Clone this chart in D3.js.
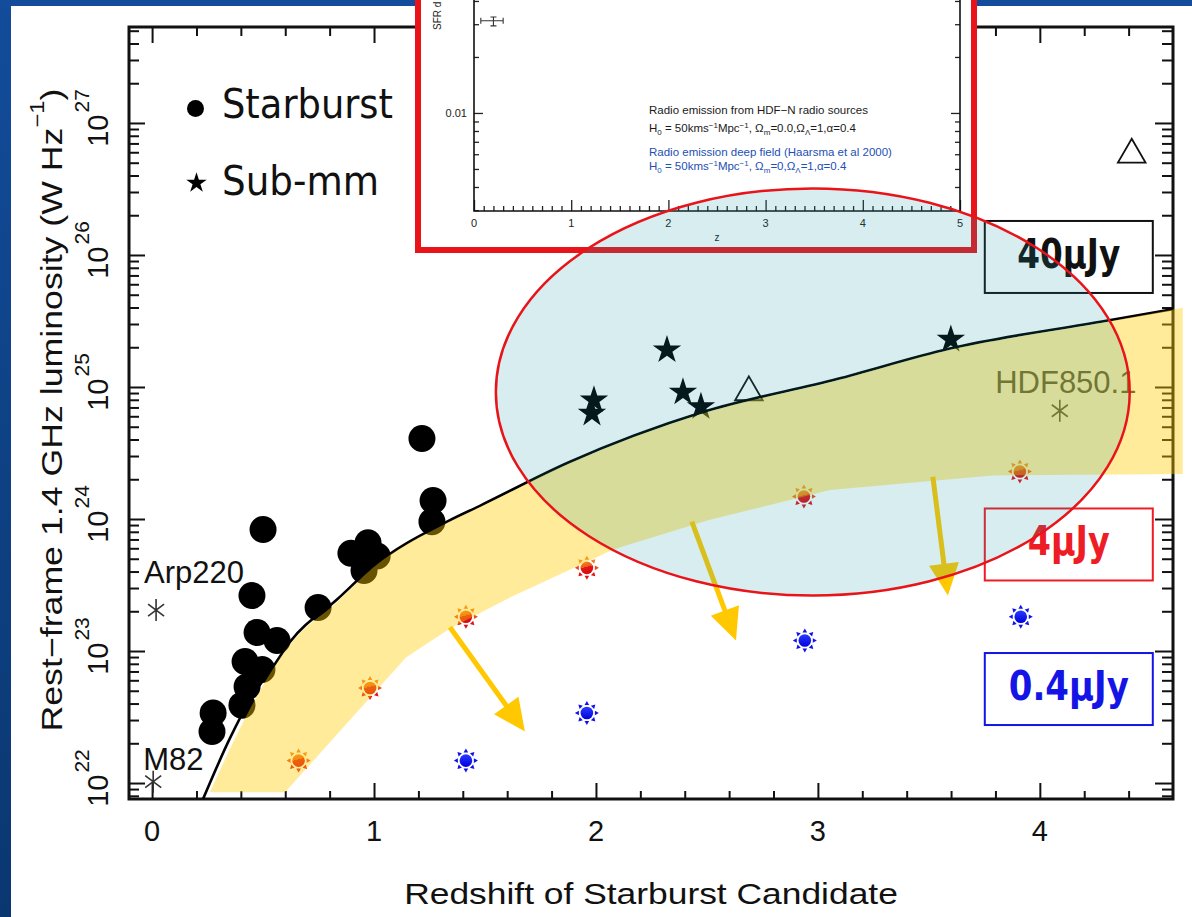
<!DOCTYPE html>
<html>
<head>
<meta charset="utf-8">
<script src="https://cdn.jsdelivr.net/npm/d3@7"></script>
<style>
  html, body { margin: 0; padding: 0; background: #0c3f86; }
  svg { display: block; }
</style>
</head>
<body>
<svg id="chart"></svg>
<script>
const W = 1192
const H = 917
const frame = { left: 129, right: 1173, top: 27, bottom: 799 }

// ---- data: redshift z and log10 of rest-frame 1.4 GHz luminosity (W/Hz) ----
const starburstZ = [1.216, 1.266, 1.261, 0.500, 0.450, 0.748, 0.896, 0.973, 1.014, 0.955,
  0.473, 0.563, 0.419, 0.495, 0.428, 0.405, 0.275, 0.270]
const starburstLogL = [24.61, 24.14, 23.98, 23.92, 23.42, 23.33, 23.74, 23.82, 23.72, 23.61,
  23.14, 23.08, 22.92, 22.86, 22.73, 22.59, 22.53, 22.39]

const submmZ = [1.991, 1.982, 2.320, 2.392, 2.473, 3.599]
const submmLogL = [24.90, 24.80, 25.28, 24.96, 24.85, 25.36]

const triangleZ = [2.689, 4.414]
const triangleLogL = [24.96, 26.76]

const namedSources = ['Arp220', 'M82', 'HDF850.1']
const namedZ = [0.018, 0.005, 4.090]
const namedLogL = [23.31, 22.01, 24.82]

// 40 microJy detection limit
const limitZ = [0.230, 0.351, 0.441, 0.545, 0.622, 0.833, 0.995, 1.329, 1.477, 1.878, 2.482, 3.086, 3.590, 4.293, 4.600]
const limitLogL = [21.88, 22.34, 22.63, 22.88, 23.07, 23.39, 23.64, 23.98, 24.10, 24.43, 24.81, 25.06, 25.29, 25.50, 25.59]

// shaded band
const bandUpperZ = [0.261, 0.360, 0.532, 0.626, 0.833, 0.995, 1.329, 1.477, 1.878, 2.482, 3.086, 3.590, 4.293, 4.644]
const bandUpperLogL = [21.93, 22.29, 22.83, 23.06, 23.37, 23.63, 23.97, 24.09, 24.42, 24.80, 25.05, 25.28, 25.49, 25.60]
const bandLowerZ = [0.261, 0.599, 1.144, 1.342, 1.617, 2.081, 2.505, 3.054, 3.788, 4.644]
const bandLowerLogL = [21.93, 21.93, 22.95, 23.17, 23.41, 23.77, 23.99, 24.22, 24.33, 24.34]

// 4 microJy and 0.4 microJy points
const sun4Z = [0.660, 0.982, 1.414, 1.959, 2.937, 3.910]
const sun4LogL = [22.17, 22.72, 23.26, 23.63, 24.17, 24.36]
const sun04Z = [1.414, 1.959, 2.941, 3.914]
const sun04LogL = [22.17, 22.53, 23.08, 23.26]

const arrowFromZ = [1.342, 2.432, 3.518]
const arrowFromLogL = [23.18, 23.98, 24.32]
const arrowToZ = [1.680, 2.631, 3.586]
const arrowToLogL = [22.39, 23.08, 23.42]

const fluxLabels = ['40μJy', '4μJy', '0.4μJy']
const fluxBoxLogL = [25.985, 23.807, 22.712]
const fluxBoxZ = [3.752, 4.509]

// highlighted region (centre and half-widths)
const regionZ = 2.977
const regionLogL = 24.962
const regionHalfZ = 1.428
const regionHalfDex = 1.542

const xMajor = [0, 1, 2, 3, 4]
const yDecades = [22, 23, 24, 25, 26, 27]
const legendItems = ['Starburst', 'Sub-mm']

// inset: SFR density vs z
const insetZTicks = [0, 1, 2, 3, 4, 5]
const insetPointZ = 0.2
const insetPointSFR = 0.0313
const insetZErr = [0.07, 0.30]
const insetSFRErr = [0.0294, 0.0328]
const insetNotes = [
  'Radio emission from HDF−N radio sources',
  'Radio emission deep field (Haarsma et al 2000)'
]

// ---- styles ----
const fluxColors = ['#111', '#ee1c24', '#1414e6']
const fluxTextLen = [103, 82, 120]
const namedOffsets = [[-12, -27, 'start'], [-10, -12, 'start'], [6, -18, 'middle']]
const hershey = "'Liberation Sans', Arial, sans-serif"

const svg = d3.select('#chart').attr('width', W).attr('height', H)
const defs = svg.append('defs')

const slide = defs.append('linearGradient').attr('id', 'slide')
  .attr('x1', 0).attr('y1', 0).attr('x2', 0).attr('y2', 1)
slide.append('stop').attr('offset', 0).attr('stop-color', '#124c9a')
slide.append('stop').attr('offset', 1).attr('stop-color', '#0a3770')

const sunRed = defs.append('linearGradient').attr('id', 'sunRed')
  .attr('x1', 0).attr('y1', 0).attr('x2', 0.25).attr('y2', 1)
sunRed.append('stop').attr('offset', 0).attr('stop-color', '#f28a2a')
sunRed.append('stop').attr('offset', 0.5).attr('stop-color', '#ec5a1a')
sunRed.append('stop').attr('offset', 0.5).attr('stop-color', '#e4161c')
sunRed.append('stop').attr('offset', 1).attr('stop-color', '#d80c10')
const sunBlue = defs.append('linearGradient').attr('id', 'sunBlue')
  .attr('x1', 0).attr('y1', 0).attr('x2', 0).attr('y2', 1)
sunBlue.append('stop').attr('offset', 0).attr('stop-color', '#2a3cff')
sunBlue.append('stop').attr('offset', 1).attr('stop-color', '#0000dc')

defs.append('clipPath').attr('id', 'frameClip').append('rect')
  .attr('x', frame.left).attr('y', frame.top)
  .attr('width', frame.right - frame.left).attr('height', frame.bottom - frame.top)

svg.append('rect').attr('width', W).attr('height', H).attr('fill', 'url(#slide)')
svg.append('rect').attr('x', 11).attr('y', 6).attr('width', W - 11).attr('height', H - 6).attr('fill', '#fff')

const x = d3.scaleLinear().domain([-0.104, 4.6]).range([frame.left, frame.right])
const y = d3.scaleLog().domain([10 ** 21.879, 10 ** 27.727]).range([frame.bottom, frame.top])
const L = v => y(10 ** v)

const plot = svg.append('g')

// ---- axes (ticks point inwards on all four sides) ----
const isDecade = v => Math.abs(Math.log10(v) - Math.round(Math.log10(v))) < 1e-6
const yMajor = yDecades.map(e => 10 ** e)
const yMinor = y.ticks().filter(v => !isDecade(v))
const xMinor = d3.range(1, 23).filter(i => i % 5 !== 0).map(i => i / 5)

function ticks(axis, transform, values, size) {
  plot.append('g').attr('transform', transform)
    .call(axis.tickValues(values).tickSize(-size).tickSizeOuter(0).tickFormat(''))
    .call(g => g.select('.domain').remove())
    .call(g => g.selectAll('line').attr('stroke', '#111').attr('stroke-width', 2))
}
ticks(d3.axisBottom(x), `translate(0,${frame.bottom})`, xMajor, 16)
ticks(d3.axisBottom(x), `translate(0,${frame.bottom})`, xMinor, 8)
ticks(d3.axisTop(x), `translate(0,${frame.top})`, xMajor, 16)
ticks(d3.axisTop(x), `translate(0,${frame.top})`, xMinor, 9)
ticks(d3.axisLeft(y), `translate(${frame.left},0)`, yMajor, 16)
ticks(d3.axisLeft(y), `translate(${frame.left},0)`, yMinor, 10)
ticks(d3.axisRight(y), `translate(${frame.right},0)`, yMajor, 18)
ticks(d3.axisRight(y), `translate(${frame.right},0)`, yMinor, 11)

plot.append('rect')
  .attr('x', frame.left).attr('y', frame.top)
  .attr('width', frame.right - frame.left).attr('height', frame.bottom - frame.top)
  .attr('fill', 'none').attr('stroke', '#111').attr('stroke-width', 3)

plot.selectAll('text.xlab').data(xMajor).enter().append('text')
  .attr('class', 'xlab')
  .attr('x', d => x(d)).attr('y', 841)
  .attr('text-anchor', 'middle')
  .style('font-family', hershey).style('font-size', '29px').attr('fill', '#111')
  .text(d => d)

const ylab = plot.selectAll('g.ylab').data(yDecades).enter().append('g')
  .attr('class', 'ylab')
  .attr('transform', d => `translate(108,${L(d)}) rotate(-90)`)
  .append('text')
  .attr('x', 5).attr('text-anchor', 'middle')
  .style('font-family', hershey).attr('fill', '#111')
ylab.append('tspan').style('font-size', '29px').text('10')
ylab.append('tspan').style('font-size', '21px').attr('dx', 2).attr('dy', -19).text(d => d)

plot.append('g').attr('transform', 'translate(651,904) scale(1.18,1)')
  .append('text').attr('text-anchor', 'middle')
  .style('font-family', hershey).style('font-size', '30px').attr('fill', '#111')
  .text('Redshift of Starburst Candidate')

const ytitle = plot.append('g').attr('transform', 'translate(62,410) rotate(-90) scale(1.19,1)')
  .append('text').attr('text-anchor', 'middle')
  .style('font-family', hershey).style('font-size', '30px').attr('fill', '#111')
ytitle.append('tspan').text('Rest−frame 1.4 GHz luminosity (W Hz')
ytitle.append('tspan').style('font-size', '20px').attr('dy', -18).text('−1')
ytitle.append('tspan').attr('dy', 18).text(')')

// ---- marks ----
const marks = plot.append('g')

marks.selectAll('circle.sb').data(starburstZ).enter().append('circle')
  .attr('class', 'sb')
  .attr('cx', d => x(d)).attr('cy', (d, i) => L(starburstLogL[i]))
  .attr('r', 13.5).attr('fill', '#000')

const star = d3.symbol(d3.symbolStar, 250)
marks.selectAll('path.submm').data(submmZ).enter().append('path')
  .attr('class', 'submm')
  .attr('transform', (d, i) => `translate(${x(d)},${L(submmLogL[i])})`)
  .attr('d', star).attr('fill', '#000')

const tri = d3.symbol(d3.symbolTriangle, 330)
marks.selectAll('path.tri').data(triangleZ).enter().append('path')
  .attr('class', 'tri')
  .attr('transform', (d, i) => `translate(${x(d)},${L(triangleLogL[i])})`)
  .attr('d', tri).attr('fill', 'none').attr('stroke', '#111').attr('stroke-width', 1.8)

function asterisk(g) {
  const p = d3.path()
  p.moveTo(0, -11); p.lineTo(0, 11)
  p.moveTo(-8, -6); p.lineTo(8, 6)
  p.moveTo(-8, 6); p.lineTo(8, -6)
  g.append('path').attr('d', p.toString()).attr('stroke', '#333').attr('stroke-width', 1.6)
}
namedSources.forEach((name, i) => {
  const g = marks.append('g').attr('transform', `translate(${x(namedZ[i])},${L(namedLogL[i])})`)
  asterisk(g)
  g.append('text')
    .attr('x', namedOffsets[i][0]).attr('y', namedOffsets[i][1])
    .attr('text-anchor', namedOffsets[i][2])
    .style('font-family', hershey).style('font-size', '31px')
    .attr('fill', i === 2 ? '#333' : '#111')
    .text(name)
})

const pairs = (zs, ls) => zs.map((z, i) => [z, ls[i]])
const smooth = d3.line().x(d => x(d[0])).y(d => L(d[1])).curve(d3.curveMonotoneX)

marks.append('path')
  .datum(pairs(limitZ, limitLogL))
  .attr('clip-path', 'url(#frameClip)')
  .attr('d', smooth)
  .attr('fill', 'none').attr('stroke', '#000').attr('stroke-width', 2.6)

function drawSun(px, py, red) {
  const s = marks.append('g').attr('transform', `translate(${px},${py})`)
  d3.range(8).forEach(k => {
    const a = k * Math.PI / 4
    const tip = 12, base = 8, hw = 2.3
    const ux = Math.sin(a), uy = -Math.cos(a)
    const col = !red ? '#1010ee' : (k === 0 || k === 1 || k === 7) ? '#f07a1e' : (k === 2 || k === 6) ? '#ee4a18' : '#e21018'
    s.append('path')
      .attr('d', `M${ux * tip},${uy * tip}L${ux * base - uy * hw},${uy * base + ux * hw}L${ux * base + uy * hw},${uy * base - ux * hw}Z`)
      .attr('fill', col)
  })
  s.append('circle').attr('r', 6.3).attr('fill', red ? 'url(#sunRed)' : 'url(#sunBlue)')
}
sun4Z.forEach((z, i) => drawSun(x(z), L(sun4LogL[i]), true))
sun04Z.forEach((z, i) => drawSun(x(z), L(sun04LogL[i]), false))

// band of model tracks: smooth upper edge, straight-segment lower edge
const upperPath = smooth(pairs(bandUpperZ, bandUpperLogL))
const lowerBack = pairs(bandLowerZ, bandLowerLogL).reverse()
  .map(d => `L${x(d[0])},${L(d[1])}`).join('')
marks.append('path')
  .attr('d', upperPath + lowerBack + 'Z')
  .attr('fill', '#ffcc00').attr('fill-opacity', 0.4)

// arrows
arrowFromZ.forEach((z, i) => {
  const x0 = x(z), y0 = L(arrowFromLogL[i])
  const x1 = x(arrowToZ[i]), y1 = L(arrowToLogL[i])
  const len = Math.hypot(x1 - x0, y1 - y0)
  const ux = (x1 - x0) / len, uy = (y1 - y0) / len
  const hl = 32, hw = 15
  const bx = x1 - ux * hl, by = y1 - uy * hl
  marks.append('line')
    .attr('x1', x0).attr('y1', y0).attr('x2', bx + ux * 2).attr('y2', by + uy * 2)
    .attr('stroke', '#ffc800').attr('stroke-width', 5)
  marks.append('path')
    .attr('d', `M${x1},${y1}L${bx - uy * hw},${by + ux * hw}L${bx + uy * hw},${by - ux * hw}Z`)
    .attr('fill', '#ffc800')
})

// flux limit boxes
fluxLabels.forEach((t, i) => {
  const x0 = x(fluxBoxZ[0]), x1 = x(fluxBoxZ[1])
  const yc = L(fluxBoxLogL[i])
  marks.append('rect')
    .attr('x', x0).attr('y', yc - 36).attr('width', x1 - x0).attr('height', 72)
    .attr('fill', 'none').attr('stroke', fluxColors[i]).attr('stroke-width', 2)
  marks.append('text')
    .attr('x', (x0 + x1) / 2).attr('y', yc + 11)
    .attr('text-anchor', 'middle')
    .attr('textLength', fluxTextLen[i]).attr('lengthAdjust', 'spacingAndGlyphs')
    .style('font-family', "'DejaVu Sans', sans-serif").style('font-weight', 'bold').style('font-size', '40px')
    .attr('fill', fluxColors[i])
    .text(t)
})

// legend
const legend = svg.append('g')
legend.append('circle').attr('cx', 195.5).attr('cy', 108.5).attr('r', 8.5).attr('fill', '#000')
legend.append('path').attr('transform', 'translate(196.5,183)').attr('d', d3.symbol(d3.symbolStar, 130)).attr('fill', '#000')
legend.selectAll('text').data(legendItems).enter().append('text')
  .attr('x', 222).attr('y', (d, i) => 118 + i * 77)
  .attr('textLength', (d, i) => i === 0 ? 171 : 157).attr('lengthAdjust', 'spacingAndGlyphs')
  .style('font-family', "'DejaVu Sans', sans-serif").style('font-size', '40px')
  .attr('fill', '#111')
  .text(d => d)

// ---- inset ----
const inset = svg.append('g')
inset.append('rect').attr('x', 418).attr('y', -10).attr('width', 556).attr('height', 260)
  .attr('fill', '#fff').attr('stroke', '#e8141a').attr('stroke-width', 6)

const xi = d3.scaleLinear().domain([0, 5]).range([474, 960])
const yi = d3.scaleLog().domain([10 ** -2.527, 10 ** -1.339]).range([211, -10])

function iticks(axis, transform, values, size) {
  inset.append('g').attr('transform', transform)
    .call(axis.tickValues(values).tickSize(-size).tickSizeOuter(0).tickFormat(''))
    .call(g => g.select('.domain').remove())
    .call(g => g.selectAll('line').attr('stroke', '#222').attr('stroke-width', 1.3))
}
const yiMinor = yi.ticks().filter(v => !isDecade(v))
const yiMajor = yi.ticks().filter(isDecade)
const ziMinor = d3.range(1, 50).filter(i => i % 10 !== 0).map(i => i / 10)
iticks(d3.axisLeft(yi), 'translate(474,0)', yiMinor, 5)
iticks(d3.axisLeft(yi), 'translate(474,0)', yiMajor, 9)
iticks(d3.axisRight(yi), 'translate(960,0)', yiMinor, 5)
iticks(d3.axisRight(yi), 'translate(960,0)', yiMajor, 9)
iticks(d3.axisBottom(xi), 'translate(0,211)', insetZTicks, 11)
iticks(d3.axisBottom(xi), 'translate(0,211)', ziMinor, 5)
inset.append('path').attr('d', 'M474,-10V211H960V-10')
  .attr('fill', 'none').attr('stroke', '#111').attr('stroke-width', 1.6)

const small = "'Liberation Sans', Arial, sans-serif"
inset.selectAll('text.ilab').data(insetZTicks).enter().append('text')
  .attr('class', 'ilab')
  .attr('x', d => xi(d)).attr('y', 227).attr('text-anchor', 'middle')
  .style('font-family', small).style('font-size', '11px').attr('fill', '#222')
  .text(d => d)
inset.selectAll('text.iylab').data(yiMajor).enter().append('text')
  .attr('class', 'iylab')
  .attr('x', 467).attr('y', d => yi(d) + 4).attr('text-anchor', 'end')
  .style('font-family', small).style('font-size', '11px').attr('fill', '#222')
  .text(d => d)
inset.append('text').attr('x', 717).attr('y', 241).attr('text-anchor', 'middle')
  .style('font-family', small).style('font-size', '10px').attr('fill', '#222').text('z')
inset.append('g').attr('transform', 'translate(441,30) rotate(-90)')
  .append('text').style('font-family', small).style('font-size', '10px').attr('fill', '#222')
  .text('SFR d')

// error bar point
const ex = xi(insetPointZ), ey = yi(insetPointSFR)
const eb = d3.path()
eb.moveTo(xi(insetZErr[0]), ey); eb.lineTo(xi(insetZErr[1]), ey)
eb.moveTo(xi(insetZErr[0]), ey - 3); eb.lineTo(xi(insetZErr[0]), ey + 3)
eb.moveTo(xi(insetZErr[1]), ey - 3); eb.lineTo(xi(insetZErr[1]), ey + 3)
eb.moveTo(ex, yi(insetSFRErr[0])); eb.lineTo(ex, yi(insetSFRErr[1]))
eb.moveTo(ex - 3, yi(insetSFRErr[0])); eb.lineTo(ex + 3, yi(insetSFRErr[0]))
eb.moveTo(ex - 3, yi(insetSFRErr[1])); eb.lineTo(ex + 3, yi(insetSFRErr[1]))
inset.append('path').attr('d', eb.toString()).attr('stroke', '#333').attr('stroke-width', 1.1).attr('fill', 'none')

function richLine(parts, px, py, color) {
  const t = inset.append('text').attr('x', px).attr('y', py)
    .style('font-family', small).style('font-size', '11.5px').attr('fill', color)
  let shift = 0
  parts.forEach(([s, kind]) => {
    const target = kind === 'sup' ? -4 : kind === 'sub' ? 3 : 0
    t.append('tspan').attr('dy', target - shift)
      .style('font-size', kind ? '8px' : '11.5px').text(s)
    shift = target
  })
}
const cosmo = zeroM => [['H'], ['0', 'sub'], [' = 50kms'], ['−1', 'sup'], ['Mpc'], ['−1', 'sup'],
  [', Ω'], ['m', 'sub'], [zeroM + ',Ω'], ['Λ', 'sub'], ['=1,α=0.4']]
richLine([[insetNotes[0]]], 649, 114, '#1a1a1a')
richLine(cosmo('=0.0'), 649, 132, '#1a1a1a')
richLine([[insetNotes[1]]], 649, 156, '#1d4fb4')
richLine(cosmo('=0'), 649, 170, '#1d4fb4')

// ---- highlighted region on top ----
const cx = x(regionZ), cy = L(regionLogL)
svg.append('ellipse')
  .attr('cx', cx).attr('cy', cy)
  .attr('rx', x(regionZ + regionHalfZ) - cx)
  .attr('ry', L(regionLogL - regionHalfDex) - cy)
  .attr('fill', 'rgb(26,150,165)').attr('fill-opacity', 0.17)
  .attr('stroke', '#e8141a').attr('stroke-width', 2.5)
</script>
</body>
</html>
